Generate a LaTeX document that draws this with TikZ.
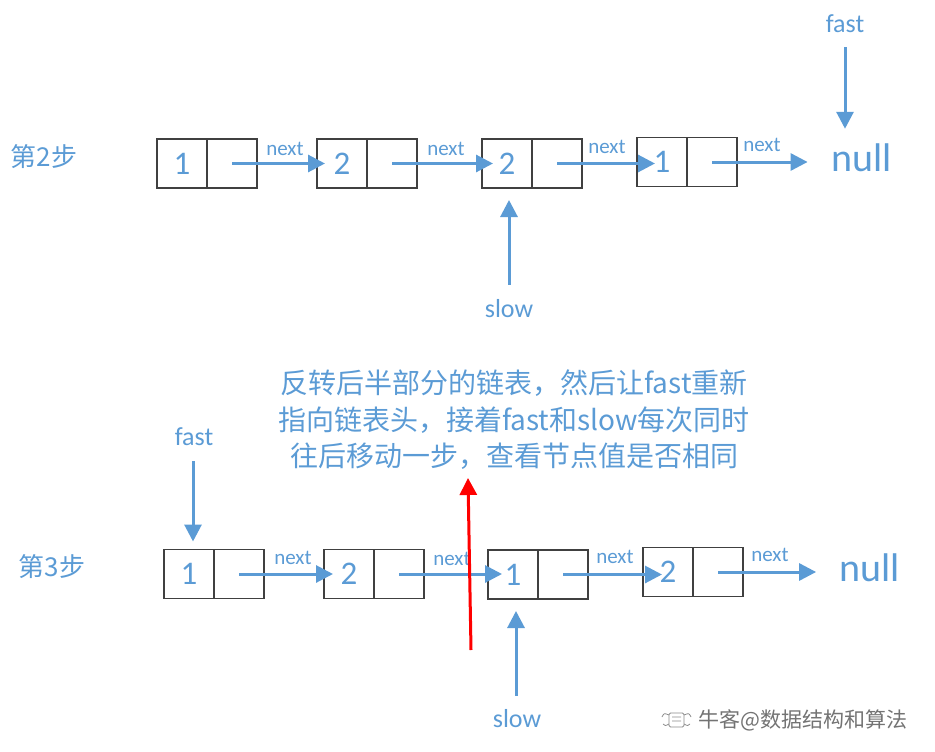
\documentclass[tikz,border=0pt]{standalone}
\usepackage{fontspec}
\setmainfont{Carlito}
\newfontfamily\cjk{Noto Sans CJK SC}
\usetikzlibrary{arrows.meta}
\definecolor{myblue}{HTML}{5B9BD5}
\definecolor{boxline}{HTML}{404040}
\definecolor{myred}{HTML}{FF0000}
\begin{document}
\begin{tikzpicture}[x=1pt,y=-1pt,
  cell/.style={draw=boxline, line width=1.3pt, minimum width=50pt, minimum height=49pt, inner sep=0pt, outer sep=0pt, text=myblue, font=\fontsize{33}{33}\selectfont},
  ptr/.style={draw=myblue, line width=3pt, -{Triangle[length=17pt,width=17pt]}},
  redptr/.style={draw=myred, line width=3pt, -{Triangle[length=17pt,width=17pt]}},
  nextlbl/.style={text=myblue, font=\fontsize{21}{21}\selectfont, inner sep=0pt},
  ptrlbl/.style={text=myblue, font=\fontsize{26}{26}\selectfont, inner sep=0pt},
  nulllbl/.style={text=myblue, font=\fontsize{40}{40}\selectfont, inner sep=0pt},
  steplbl/.style={text=myblue, font=\cjk\fontsize{26}{26}\selectfont, inner sep=0pt},
]
\useasboundingbox (0,0) rectangle (935,752);

% ---------- step 2 ----------
\node[steplbl] (step2) at (44,157) {第2步};
\node[cell] (t1a) at (182,163.5) {1};
\node[cell] (t1b) at (232,163.5) {};
\node[cell] (t2a) at (342,163.5) {2};
\node[cell] (t2b) at (392,163.5) {};
\node[cell] (t3a) at (507,163.5) {2};
\node[cell] (t3b) at (557,163.5) {};
\node[cell] (t4a) at (662,162) {1};
\node[cell] (t4b) at (712,162) {};
\node[nulllbl] (tnull) at (862,158) {null};

\draw[ptr] (t1b.center) -- ([xshift=8pt]t2a.west);
\draw[ptr] (t2b.center) -- ([xshift=11pt]t3a.west);
\draw[ptr] (t3b.center) -- ([xshift=18pt]t4a.west |- t3b.center);
\draw[ptr, shorten >=24pt] (t4b.center) -- (tnull.west |- t4b.center);

\node[nextlbl] (tn1) at (285,149) {next};
\node[nextlbl] (tn2) at (446,149) {next};
\node[nextlbl] (tn3) at (607,147) {next};
\node[nextlbl] (tn4) at (762,145) {next};

\node[ptrlbl] (tfast) at (845,24) {fast};
\draw[ptr, shorten <=14pt, shorten >=15pt] (tfast.south) -- (tfast.south |- tnull.north);
\node[ptrlbl] (tslow) at (509,309) {slow};
\draw[ptr, shorten <=15pt, shorten >=12pt] (tslow.north) -- (tslow.north |- t3a.south);

% ---------- note ----------
\node[align=center, text=myblue, font=\cjk\fontsize{28}{36.5}\selectfont, inner sep=0pt] (note) at (514,420)
  {反转后半部分的链表，然后让fast重新\\指向链表头，接着fast和slow每次同时\\往后移动一步，查看节点值是否相同};

% ---------- step 3 ----------
\node[steplbl] (step3) at (52,567) {第3步};
\node[cell] (b1a) at (189,574) {1};
\node[cell] (b1b) at (239,574) {};
\node[cell] (b2a) at (349,574) {2};
\node[cell] (b2b) at (399,574) {};
\node[cell] (b3a) at (513,574.5) {1};
\node[cell] (b3b) at (563,574.5) {};
\node[cell] (b4a) at (668,572) {2};
\node[cell] (b4b) at (718,572) {};
\node[nulllbl] (bnull) at (869.5,568) {null};

\draw[ptr] (b1b.center) -- ([xshift=9pt]b2a.west);
\draw[ptr] (b2b.center) -- ([xshift=14pt]b3a.west |- b2b.center);
\draw[ptr] (b3b.center) -- ([xshift=19pt]b4a.west |- b3b.center);
\draw[ptr, shorten >=23pt] (b4b.center) -- (bnull.west |- b4b.center);

\node[nextlbl] (bn1) at (293,558) {next};
\node[nextlbl] (bn2) at (452,559) {next};
\node[nextlbl] (bn3) at (615,557) {next};
\node[nextlbl] (bn4) at (770,555) {next};

\node[ptrlbl] (bfast) at (194,437) {fast};
\draw[ptr, shorten <=15pt, shorten >=8pt] ([xshift=-1pt]bfast.south) -- ([xshift=-1pt]bfast.south |- b1a.north);
\node[ptrlbl] (bslow) at (517,719) {slow};
\draw[ptr, shorten <=14pt, shorten >=12pt] ([xshift=-1pt]bslow.north) -- ([xshift=-1pt]bslow.north |- b3a.south);

% red arrow
\coordinate (r0) at (471,650);
\coordinate (r1) at (468,478);
\draw[redptr] (r0) -- (r1);

% ---------- watermark ----------
\node[font=\cjk\fontsize{21}{21}\selectfont, text=black!55, inner sep=0pt] (wm) at (803,720) {牛客@数据结构和算法};
\draw[black!45, line width=0.8pt, rounded corners=1.5pt] (669,713) rectangle (684,727);
\draw[black!45, line width=0.8pt] (672,717) -- (681,717) (672,721) -- (681,721)
  (669,715) .. controls (664,713) .. (662,717) (684,715) .. controls (689,713) .. (691,717)
  (669,724) .. controls (665,726) .. (663,724) (684,724) .. controls (688,726) .. (690,724);
\end{tikzpicture}
\end{document}
